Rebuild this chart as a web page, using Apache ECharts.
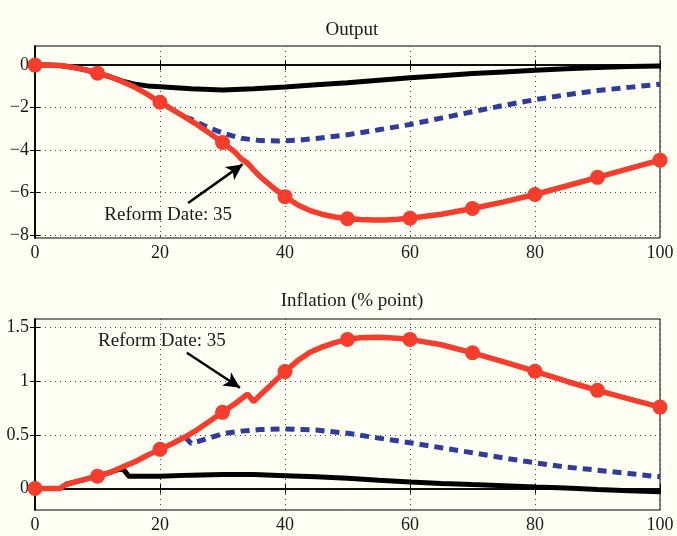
<!DOCTYPE html>
<html>
<head>
<meta charset="utf-8">
<script src="https://cdn.jsdelivr.net/npm/echarts@6/dist/echarts.min.js"></script>
<style>
  html, body { margin: 0; padding: 0; background: #fffff3; }
  #main { width: 677px; height: 536px; }
</style>
</head>
<body>
<div id="main"></div>
<script>
// ---- data ----
var outRedX   = [0, 2, 4, 6, 8, 10, 12, 14, 16, 18, 20, 22, 24, 26, 28, 30, 32, 33, 34, 35, 36, 37, 38, 40, 42, 44, 46, 48, 50, 52, 54, 56, 58, 60, 65, 70, 75, 80, 85, 90, 95, 100];
var outRedY   = [0, 0, -0.02, -0.1, -0.22, -0.38, -0.55, -0.78, -1.05, -1.38, -1.75, -2.1, -2.45, -2.82, -3.22, -3.65, -4.1, -4.42, -4.62, -4.95, -5.25, -5.5, -5.76, -6.2, -6.58, -6.86, -7.04, -7.16, -7.24, -7.28, -7.3, -7.3, -7.27, -7.22, -7.03, -6.76, -6.45, -6.1, -5.7, -5.29, -4.88, -4.48];
var outBlackX = [0, 2, 4, 6, 8, 10, 12, 14, 16, 18, 20, 25, 30, 35, 40, 45, 50, 55, 60, 65, 70, 75, 80, 85, 90, 95, 100];
var outBlackY = [0, 0, -0.02, -0.1, -0.22, -0.38, -0.55, -0.76, -0.9, -0.98, -1.02, -1.12, -1.17, -1.12, -1.03, -0.93, -0.83, -0.71, -0.6, -0.5, -0.4, -0.32, -0.24, -0.17, -0.11, -0.07, -0.04];
var outBlueX  = [24, 25, 27, 30, 33, 36, 39, 42, 45, 50, 55, 60, 65, 70, 75, 80, 85, 90, 95, 100];
var outBlueY  = [-2.45, -2.55, -2.85, -3.2, -3.45, -3.56, -3.58, -3.54, -3.46, -3.28, -3.05, -2.8, -2.5, -2.2, -1.9, -1.63, -1.4, -1.2, -1.05, -0.9];
var outMarkX  = [0, 10, 20, 30, 40, 50, 60, 70, 80, 90, 100];
var outMarkY  = [0, -0.38, -1.75, -3.65, -6.2, -7.24, -7.22, -6.76, -6.1, -5.29, -4.48];

var infRedX   = [0, 2, 4, 5, 6, 8, 10, 12, 14, 16, 18, 20, 22, 24, 26, 28, 30, 32, 34, 35, 36, 38, 40, 42, 44, 46, 48, 50, 52, 55, 58, 60, 65, 70, 75, 80, 85, 90, 95, 100];
var infRedY   = [0, 0, 0, 0.04, 0.055, 0.085, 0.115, 0.15, 0.2, 0.25, 0.31, 0.365, 0.42, 0.48, 0.55, 0.63, 0.71, 0.79, 0.88, 0.81, 0.87, 0.98, 1.09, 1.19, 1.27, 1.32, 1.36, 1.39, 1.405, 1.41, 1.4, 1.39, 1.34, 1.265, 1.18, 1.093, 1.0, 0.915, 0.835, 0.759];
var infBlackX = [0, 2, 4, 5, 6, 8, 10, 12, 14, 15, 20, 25, 30, 35, 40, 45, 50, 55, 60, 65, 70, 75, 80, 85, 90, 95, 100];
var infBlackY = [0, 0, 0, 0.04, 0.055, 0.085, 0.115, 0.15, 0.19, 0.115, 0.115, 0.125, 0.13, 0.13, 0.12, 0.11, 0.095, 0.077, 0.06, 0.048, 0.037, 0.027, 0.015, 0.005, -0.008, -0.02, -0.03];
var infBlueX  = [24, 25, 27, 30, 33, 36, 40, 45, 50, 55, 60, 65, 70, 75, 80, 85, 90, 95, 100];
var infBlueY  = [0.48, 0.42, 0.455, 0.51, 0.535, 0.55, 0.556, 0.545, 0.515, 0.47, 0.427, 0.38, 0.334, 0.285, 0.24, 0.2, 0.171, 0.14, 0.109];
var infMarkX  = [0, 10, 20, 30, 40, 50, 60, 70, 80, 90, 100];
var infMarkY  = [0, 0.115, 0.365, 0.71, 1.09, 1.39, 1.39, 1.265, 1.093, 0.915, 0.759];

var outTicks = [-8, -6, -4, -2, 0];
var infTicks = [0, 0.5, 1, 1.5];
var titles = ['Output', 'Inflation (% point)'];
var note = 'Reform Date: 35';

function pairs(xs, ys) {
  var r = [];
  for (var i = 0; i < xs.length; i++) r.push([xs[i], ys[i]]);
  return r;
}

var red = '#f53d2d', blue = '#2e3d9c', ink = '#1a1a1a';
var font = 'Liberation Serif';
var grid = { type: [1, 4], color: '#444', width: 1 };

function fmt(v) { return String(v).replace('-', '\u2212'); }

function xAxes(gi) {
  return [{
    type: 'value', gridIndex: gi, min: 0, max: 100, interval: 20, position: 'bottom',
    axisLine: { lineStyle: { color: '#000', width: 1.5 } },
    axisTick: { inside: true, length: 5, lineStyle: { color: '#000' } },
    axisLabel: { fontFamily: font, fontSize: 18, color: ink, margin: 6 },
    splitLine: { show: true, lineStyle: grid }
  }, {
    type: 'value', gridIndex: gi, min: 0, max: 100, interval: 20, position: 'top',
    axisLine: { lineStyle: { color: '#000', width: 1.5 } },
    axisTick: { inside: true, length: 5, lineStyle: { color: '#000' } },
    axisLabel: { show: false }, splitLine: { show: false }
  }];
}

function yAxes(gi, min, max, ticks) {
  return [{
    type: 'value', gridIndex: gi, min: min, max: max, position: 'left',
    axisLine: { lineStyle: { color: '#000', width: 1.5 } },
    axisTick: { inside: true, length: 5, customValues: ticks, lineStyle: { color: '#000' } },
    axisLabel: { customValues: ticks, formatter: fmt, fontFamily: font, fontSize: 18, color: ink, margin: 6 },
    splitLine: { show: true, lineStyle: grid }
  }, {
    type: 'value', gridIndex: gi, min: min, max: max, position: 'right',
    axisLine: { lineStyle: { color: '#000', width: 1.5 } },
    axisTick: { inside: true, length: 5, customValues: ticks, lineStyle: { color: '#000' } },
    axisLabel: { show: false }, splitLine: { show: false }
  }];
}

function lines(xi, yi, bx, by, ux, uy, rx, ry, mx, my, arrow, text) {
  return [{
    type: 'line', xAxisIndex: xi, yAxisIndex: yi, data: pairs(bx, by), showSymbol: false,
    lineStyle: { color: '#000', width: 5 }, z: 2
  }, {
    type: 'line', xAxisIndex: xi, yAxisIndex: yi, data: pairs(ux, uy), showSymbol: false,
    lineStyle: { color: blue, width: 5, type: [9, 6] }, z: 3
  }, {
    type: 'line', xAxisIndex: xi, yAxisIndex: yi, data: pairs(rx, ry), showSymbol: false,
    lineStyle: { color: red, width: 5.5 }, z: 4,
    markLine: {
      silent: true, symbol: ['none', 'arrow'], symbolSize: [12, 16],
      lineStyle: { color: '#000', width: 2.5, type: 'solid' }, label: { show: false },
      data: [[{ coord: arrow[0] }, { coord: arrow[1] }]]
    },
    markPoint: {
      silent: true, symbol: 'rect', symbolSize: 1, itemStyle: { color: 'rgba(0,0,0,0)' },
      label: { show: true, position: 'inside', formatter: note, fontFamily: font, fontSize: 19, color: ink },
      data: [{ coord: text }]
    }
  }, {
    type: 'scatter', xAxisIndex: xi, yAxisIndex: yi, data: pairs(mx, my),
    symbol: 'circle', symbolSize: 15, itemStyle: { color: red, opacity: 1 }, clip: false, z: 5
  }];
}

var myChart = echarts.init(document.getElementById('main'));
var option = {
  backgroundColor: '#fffff3',
  animation: false,
  title: [
    { text: titles[0], left: 347, top: 16, textAlign: 'center', textStyle: { fontFamily: font, fontSize: 19, fontWeight: 'normal', color: ink } },
    { text: titles[1], left: 347, top: 287, textAlign: 'center', textStyle: { fontFamily: font, fontSize: 19, fontWeight: 'normal', color: ink } }
  ],
  grid: [
    { left: 35, right: 17, top: 46, height: 192, show: true, borderColor: '#000', backgroundColor: 'transparent' },
    { left: 35, right: 17, top: 319, height: 191, show: true, borderColor: '#000', backgroundColor: 'transparent' }
  ],
  xAxis: xAxes(0).concat(xAxes(1)),
  yAxis: yAxes(0, -8.15, 0.9, outTicks).concat(yAxes(1, -0.2, 1.58, infTicks)),
  series: lines(0, 0, outBlackX, outBlackY, outBlueX, outBlueY, outRedX, outRedY, outMarkX, outMarkY,
                [[24.5, -6.5], [33.2, -4.68]], [21.3, -7.07])
    .concat(lines(2, 2, infBlackX, infBlackY, infBlueX, infBlueY, infRedX, infRedY, infMarkX, infMarkY,
                [[24.3, 1.265], [32.8, 0.94]], [20.3, 1.374]))
};
myChart.setOption(option);
</script>
</body>
</html>
